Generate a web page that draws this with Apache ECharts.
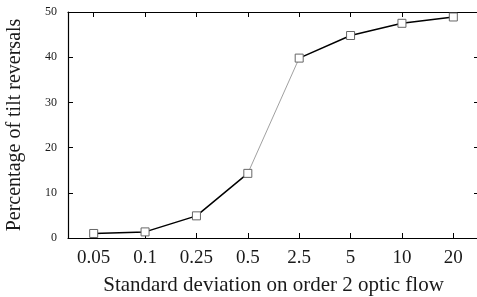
<!DOCTYPE html>
<html>
<head>
<meta charset="utf-8">
<script src="https://cdn.jsdelivr.net/npm/echarts@6/dist/echarts.min.js"></script>
<style>
  html, body { margin: 0; padding: 0; background: #fff; }
  #chart { width: 477px; height: 297px; }
</style>
</head>
<body>
<div id="chart"></div>
<script>
const categories = ['0.05', '0.1', '0.25', '0.5', '2.5', '5', '10', '20']
const reversals = [1.0, 1.35, 4.9, 14.3, 39.8, 44.8, 47.5, 48.9]
const yTicks = [0, 10, 20, 30, 40, 50]

// the 0.5 -> 2.5 step is drawn as a thin grey line
const lowPart = reversals.map((v, i) => (i <= 3 ? v : null))
const highPart = reversals.map((v, i) => (i >= 4 ? v : null))
const jumpPart = reversals.map((v, i) => (i === 3 || i === 4 ? v : null))

const font = 'Liberation Serif'
const chart = echarts.init(document.getElementById('chart'))

const tickStyle = { show: true, inside: true, length: 5, lineStyle: { color: '#000', width: 1 } }

chart.setOption({
  animation: false,
  grid: { left: 68, right: -2, top: 12, bottom: 59, containLabel: false, outerBoundsMode: 'none' },
  xAxis: [{
    type: 'category',
    data: categories,
    boundaryGap: true,
    axisLine: { onZero: false, lineStyle: { color: '#000', width: 1.2 } },
    axisTick: Object.assign({ alignWithLabel: true }, tickStyle),
    axisLabel: { fontFamily: font, fontSize: 19, color: '#1a1a1a', margin: 11 },
    name: 'Standard deviation on order 2 optic flow',
    nameLocation: 'middle',
    nameGap: 37,
    nameTextStyle: { fontFamily: font, fontSize: 21, color: '#1a1a1a' }
  }, {
    type: 'category',
    data: categories,
    position: 'top',
    boundaryGap: true,
    axisLine: { show: true, onZero: false, lineStyle: { color: '#000', width: 1.2 } },
    axisTick: Object.assign({ alignWithLabel: true }, tickStyle),
    axisLabel: { show: false }
  }],
  yAxis: [{
    type: 'value',
    min: 0,
    max: 50,
    interval: 10,
    splitLine: { show: false },
    axisLine: { show: true, onZero: false, lineStyle: { color: '#000', width: 1.2 } },
    axisTick: tickStyle,
    axisLabel: {
      fontFamily: font, fontSize: 12, color: '#1a1a1a', margin: 11,
      formatter: v => (yTicks.includes(v) ? String(v) : '')
    },
    name: 'Percentage of tilt reversals',
    nameLocation: 'middle',
    nameGap: 43,
    nameTextStyle: { fontFamily: font, fontSize: 20, color: '#1a1a1a' }
  }, {
    type: 'value',
    position: 'right',
    min: 0,
    max: 50,
    interval: 10,
    splitLine: { show: false },
    axisLine: { show: true, onZero: false, lineStyle: { color: '#000', width: 1.2 } },
    axisTick: tickStyle,
    axisLabel: { show: false }
  }],
  series: [{
    type: 'line',
    data: jumpPart,
    symbol: 'none',
    lineStyle: { color: '#888', width: 0.8 },
    z: 1
  }, {
    type: 'line',
    data: lowPart,
    symbol: 'rect',
    symbolSize: 8,
    itemStyle: { color: '#fff', borderColor: '#666', borderWidth: 1 },
    lineStyle: { color: '#000', width: 1.5 },
    z: 2
  }, {
    type: 'line',
    data: highPart,
    symbol: 'rect',
    symbolSize: 8,
    itemStyle: { color: '#fff', borderColor: '#666', borderWidth: 1 },
    lineStyle: { color: '#000', width: 1.5 },
    z: 2
  }]
})
</script>
</body>
</html>
